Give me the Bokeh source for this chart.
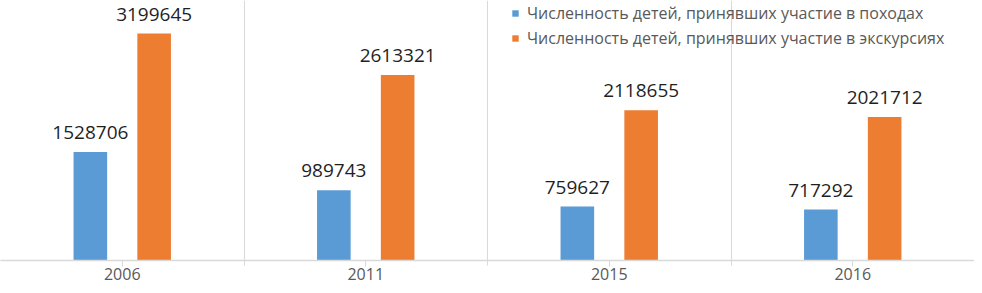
import numpy as np
from bokeh.plotting import figure
from bokeh.models import ColumnDataSource, Range1d, FixedTicker, LabelSet
from bokeh.core.properties import value
from bokeh.embed import file_html
from bokeh.resources import INLINE

# ---- data ----
years = ["2006", "2011", "2015", "2016"]
hikes = [1528706, 989743, 759627, 717292]
excursions = [3199645, 2613321, 2118655, 2021712]
series_names = [
    "Численность детей, принявших участие в походах",
    "Численность детей, принявших участие в экскурсиях",
]
colors = ["#5B9BD5", "#ED7D31"]

# ---- layout helpers ----
n = len(years)
centers = np.arange(n) + 0.5
offset = 0.131
bar_w = 0.138

src = ColumnDataSource(dict(
    x1=centers - offset,
    x2=centers + offset,
    hikes=hikes,
    exc=excursions,
    lh=[str(v) for v in hikes],
    le=[str(v) for v in excursions],
))

p = figure(
    width=974, height=285,
    x_range=Range1d(0, n), y_range=Range1d(0, 3665000),
    output_backend="svg", toolbar_location=None,
    y_axis_location=None,
    min_border_left=0, min_border_right=0, min_border_top=0, min_border_bottom=25,
)
p.outline_line_color = None
p.background_fill_color = "white"
p.border_fill_color = "white"

p.vbar(x="x1", top="hikes", width=bar_w, source=src, fill_color=colors[0],
       line_color=None, legend_label=series_names[0])
p.vbar(x="x2", top="exc", width=bar_w, source=src, fill_color=colors[1],
       line_color=None, legend_label=series_names[1])

for xcol, ycol, tcol in (("x1", "hikes", "lh"), ("x2", "exc", "le")):
    p.add_layout(LabelSet(
        x=xcol, y=ycol, text=tcol, source=src,
        text_align="center", text_baseline="alphabetic", y_offset=13,
        text_font=value("Open Sans"), text_font_size=value("19px"),
        text_color="#1f1f1f",
    ))

# x axis
ax = p.xaxis[0]
ax.ticker = FixedTicker(ticks=list(centers), minor_ticks=list(np.arange(1, n)))
ax.major_label_overrides = {float(c): y for c, y in zip(centers, years)}
ax.axis_line_color = "#D9D9D9"
ax.axis_line_width = 1.5
ax.major_tick_line_color = "#D9D9D9"
ax.major_tick_in = 0
ax.major_tick_out = 6
ax.minor_tick_line_color = "#D9D9D9"
ax.minor_tick_in = 0
ax.minor_tick_out = 5
ax.major_label_text_font = "Open Sans"
ax.major_label_text_font_size = "16px"
ax.major_label_text_color = "#595959"
ax.major_label_standoff = 1

p.xgrid.ticker = FixedTicker(ticks=list(np.arange(1, n)))
p.xgrid.grid_line_color = "#D9D9D9"
p.xgrid.grid_line_width = 1
p.ygrid.visible = False

lg = p.legend[0]
lg.location = (511, 211)
lg.orientation = "vertical"
lg.label_text_font = "Open Sans"
lg.label_text_font_size = "16px"
lg.label_text_color = "#595959"
lg.glyph_width = 8
lg.glyph_height = 8
lg.label_standoff = 8
lg.label_height = 20
lg.spacing = 3
lg.padding = 0
lg.margin = 0
lg.background_fill_alpha = 0
lg.border_line_alpha = 0

open("out.html", "w").write(file_html(p, INLINE))
